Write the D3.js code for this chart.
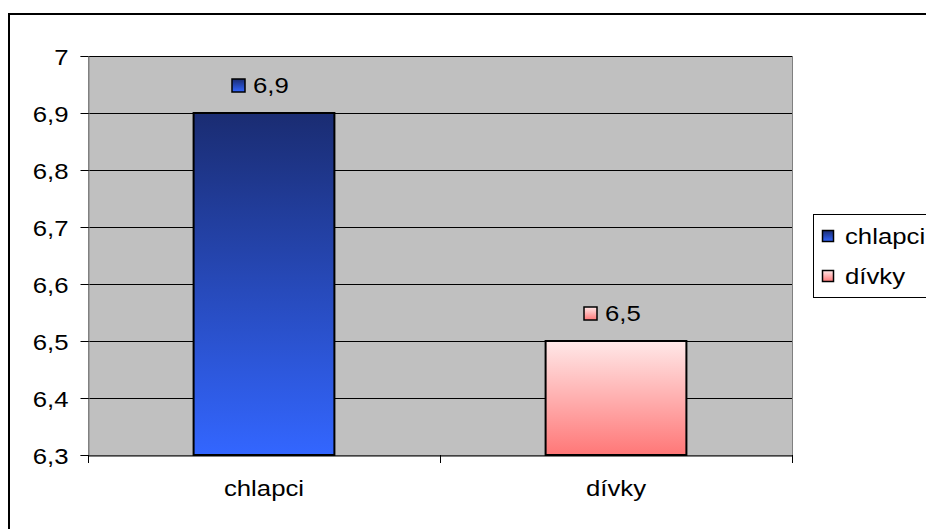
<!DOCTYPE html>
<html>
<head>
<meta charset="utf-8">
<script src="https://cdn.jsdelivr.net/npm/d3@7"></script>
<style>
  html, body { margin: 0; padding: 0; background: #fff; }
  svg text { font-family: "Liberation Sans", Arial, sans-serif; fill: #000; font-size: 23px; }
</style>
</head>
<body>
<svg id="chart" width="926" height="529"></svg>
<script>
// Average values by group
const categories = ["chlapci", "dívky"];
const values = [6.9, 6.5];
const yTicks = [6.3, 6.4, 6.5, 6.6, 6.7, 6.8, 6.9, 7];
const seriesColors = [
  { top: "#1a2c72", bottom: "#3366ff" },
  { top: "#ffe8e8", bottom: "#ff7777" }
];

const svg = d3.select("#chart");
const fmt = v => String(v).replace(".", ",");
const SX = 1.12; // slightly widened lettering

// gradients
const defs = svg.append("defs");
seriesColors.forEach((c, i) => {
  const g = defs.append("linearGradient").attr("id", "grad" + i)
    .attr("x1", 0).attr("y1", 0).attr("x2", 0).attr("y2", 1);
  g.append("stop").attr("offset", "0%").attr("stop-color", c.top);
  g.append("stop").attr("offset", "100%").attr("stop-color", c.bottom);
});

// draws text stretched horizontally around its anchor point
function stretched(sel, ax, ay) {
  sel.attr("x", 0).attr("y", 0)
    .attr("transform", (d, i) => `translate(${ax(d, i)},${ay(d, i)}) scale(${SX},1)`);
  return sel;
}

// outer frame
svg.append("rect").attr("x", 9).attr("y", 14).attr("width", 940).attr("height", 540)
  .attr("fill", "none").attr("stroke", "#000").attr("stroke-width", 2);

const plot = { left: 88, right: 792, top: 56, bottom: 455 };
const x = d3.scaleBand().domain(categories).range([plot.left, plot.right]).paddingInner(0).paddingOuter(0);
const y = d3.scaleLinear().domain([6.3, 7]).range([plot.bottom, plot.top]);

// plot background
svg.append("rect").attr("x", plot.left + 0.5).attr("y", plot.top + 0.5)
  .attr("width", plot.right - plot.left).attr("height", plot.bottom - plot.top)
  .attr("fill", "#c0c0c0").attr("stroke", "#808080").attr("stroke-width", 1);

// gridlines
svg.append("g").selectAll("line").data(yTicks.slice(1)).join("line")
  .attr("x1", plot.left).attr("x2", plot.right)
  .attr("y1", d => Math.round(y(d)) + 0.5).attr("y2", d => Math.round(y(d)) + 0.5)
  .attr("stroke", "#000").attr("stroke-width", 1);

// bars
const barW = x.bandwidth() * 0.4;
svg.append("g").selectAll("rect").data(values).join("rect")
  .attr("x", (d, i) => x(categories[i]) + (x.bandwidth() - barW) / 2)
  .attr("y", d => y(d))
  .attr("width", barW)
  .attr("height", d => y(6.3) - y(d))
  .attr("fill", (d, i) => `url(#grad${i})`)
  .attr("stroke", "#000").attr("stroke-width", 2);

// y axis
const yAxis = d3.axisLeft(y).tickValues(yTicks).tickSize(8).tickPadding(10)
  .tickFormat(fmt);
const ya = svg.append("g").attr("transform", `translate(${plot.left + 0.5},0)`).call(yAxis);
ya.attr("font-size", null);
ya.select(".domain").attr("stroke", "#808080");
ya.selectAll(".tick line").attr("stroke", "#000");
ya.selectAll(".tick text").attr("fill", "#000")
  .attr("dy", "0.36em")
  .attr("x", -20 / SX).attr("transform", `scale(${SX},1)`);

// x axis
const xAxis = d3.axisBottom(x).tickSize(0).tickPadding(24);
const xa = svg.append("g").attr("transform", `translate(0,${plot.bottom + 0.5})`).call(xAxis);
xa.attr("font-size", null);
xa.select(".domain").attr("stroke", "#000");
xa.selectAll(".tick text").attr("fill", "#000").attr("transform", `scale(${SX},1)`);

// category separators
svg.append("g").selectAll("line").data([plot.left, x(categories[1]), plot.right]).join("line")
  .attr("x1", d => d + 0.5).attr("x2", d => d + 0.5)
  .attr("y1", plot.bottom).attr("y2", plot.bottom + 8)
  .attr("stroke", "#000");

// value labels with key squares
const lbl = svg.append("g").selectAll("g").data(values).join("g")
  .attr("transform", (d, i) => `translate(${x(categories[i]) + x.bandwidth() / 2},${y(d) - 20})`);
lbl.append("rect").attr("x", -32).attr("y", -14).attr("width", 13).attr("height", 13)
  .attr("fill", (d, i) => `url(#grad${i})`).attr("stroke", "#000").attr("stroke-width", 1.5);
stretched(lbl.append("text").text(fmt), () => -11, () => 0);

// legend
const lg = svg.append("g");
lg.append("rect").attr("x", 813.5).attr("y", 214.5).attr("width", 140).attr("height", 83)
  .attr("fill", "#fff").attr("stroke", "#000");
const items = lg.selectAll("g").data(categories).join("g")
  .attr("transform", (d, i) => `translate(822,${236 + i * 40})`);
items.append("rect").attr("x", 0.5).attr("y", -5.5).attr("width", 11).attr("height", 11)
  .attr("fill", (d, i) => `url(#grad${i})`).attr("stroke", "#000").attr("stroke-width", 1.5);
stretched(items.append("text").text(d => d), () => 23, () => 8);
</script>
</body>
</html>
